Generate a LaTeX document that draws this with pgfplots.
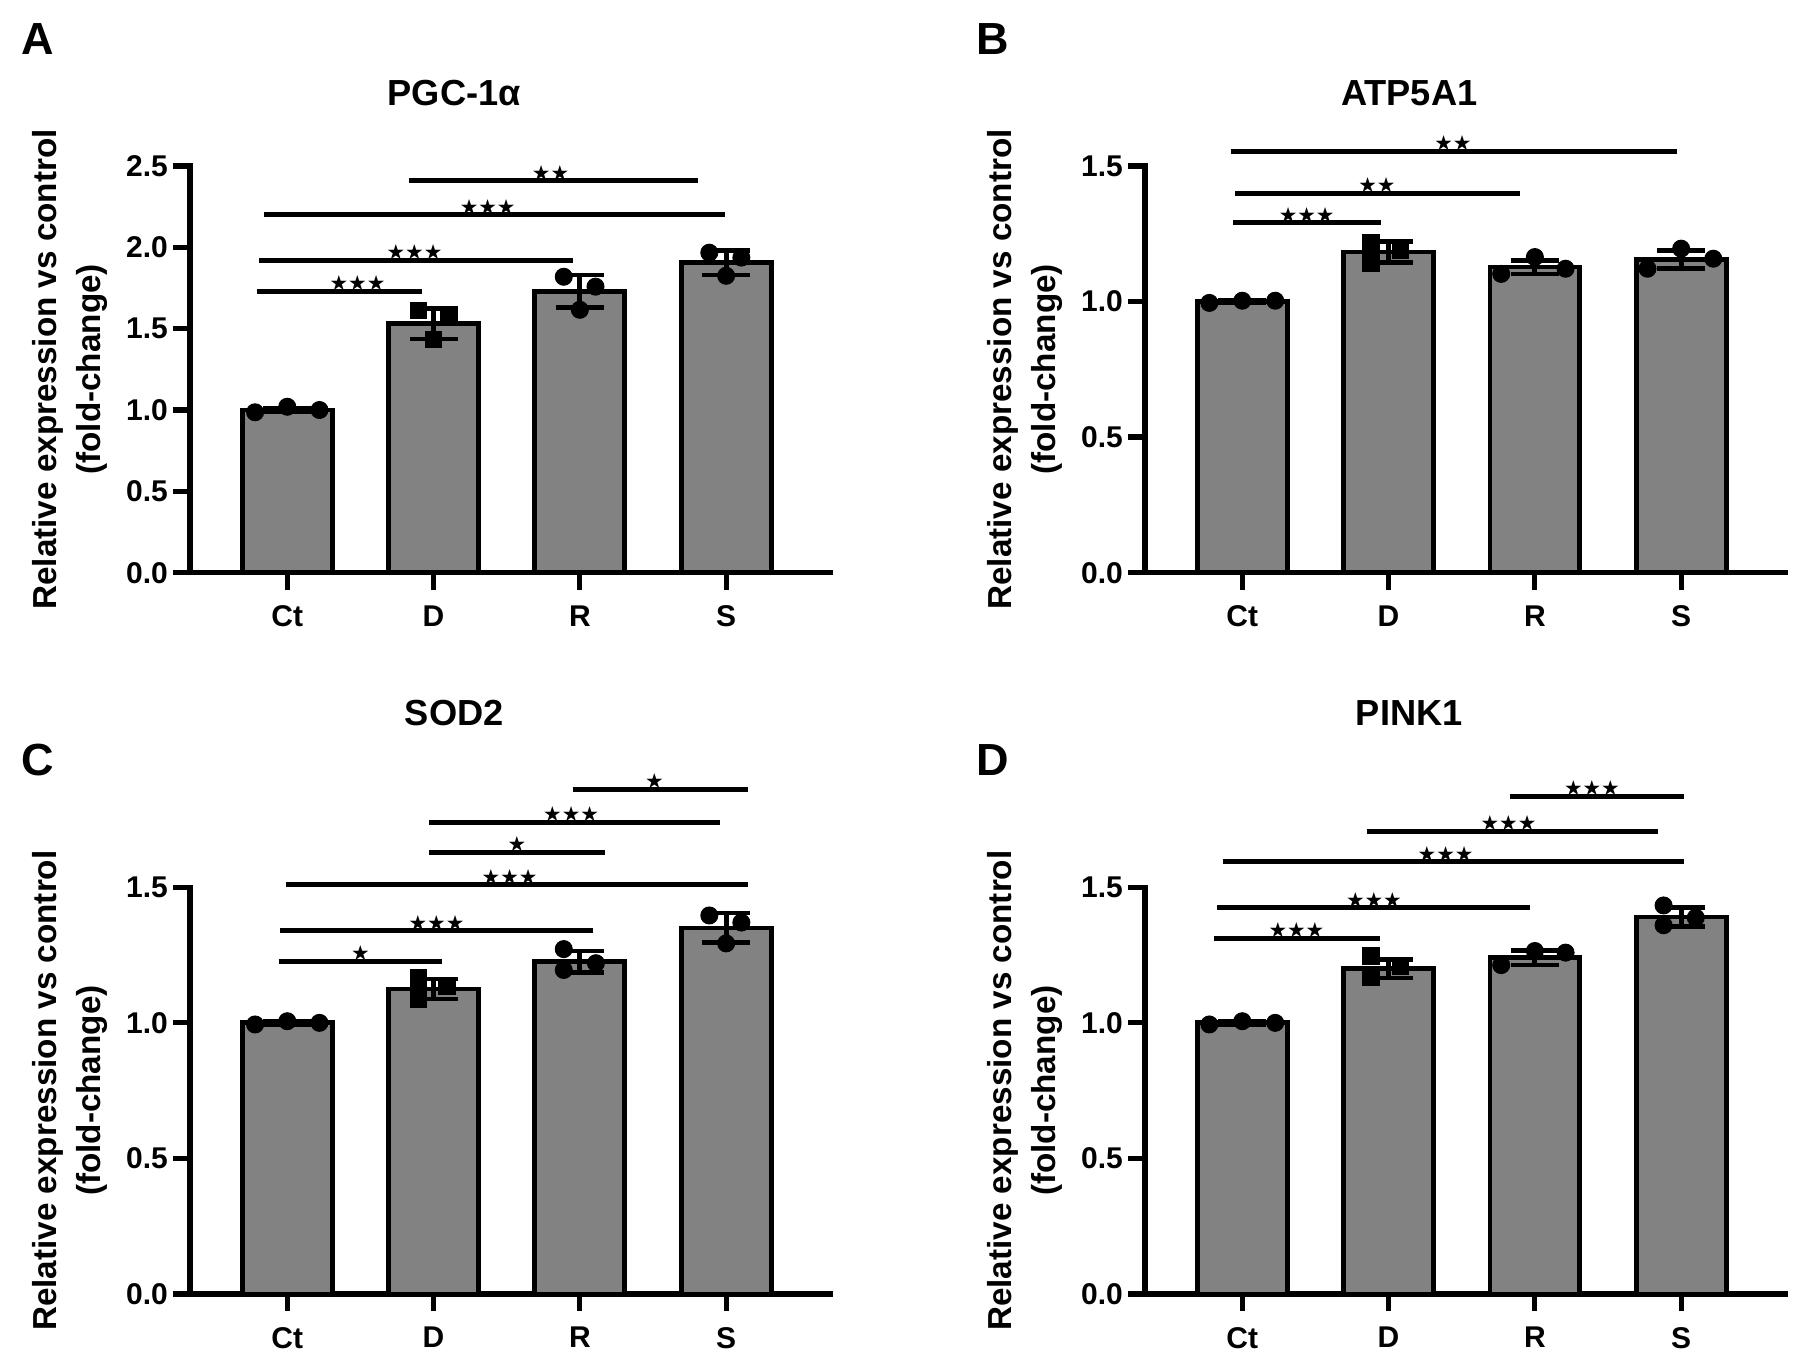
\documentclass[border=0pt]{standalone}
\usepackage{fontspec}
\setmainfont{Liberation Sans}
\newfontfamily\djv{DejaVu Sans}
\usepackage{pgfplots}
\pgfplotsset{compat=1.18}
\definecolor{barfill}{RGB}{130,130,130}
\newcommand{\starfont}{\fontsize{8.3}{9}\selectfont\djv}
\newcommand{\sig}[5]{%
  \draw[line width=2pt] (axis cs:#1,#3) -- (axis cs:#2,#3);
  \node[anchor=south, inner sep=0pt, yshift=0pt, font=\starfont] at (axis cs:#4,#3) {#5};}
\pgfplotsset{
  panel/.style={
    scale only axis, width=256pt, height=162.68pt,
    xmin=-0.665, xmax=3.71, ymin=0,
    axis x line*=bottom, axis y line*=left,
    axis line style={line width=2.1pt, -, line cap=rect},
    xtick={0,1,2,3}, xticklabels={Ct,D,R,S},
    tick align=outside, major tick length=6.8pt,
    tick style={black, line width=2.1pt},
    /pgf/number format/assume math mode=true,
    ticklabel style={font=\fontsize{12}{14}\selectfont\bfseries},
    yticklabel style={xshift=1.5pt, /pgf/number format/fixed, /pgf/number format/fixed zerofill, /pgf/number format/precision=1},
    xticklabel style={yshift=-3pt},
    ylabel={Relative expression vs control\\(fold-change)},
    ylabel style={at={(axis description cs:-0.1875,0.5)}, anchor=center, align=center, font=\fontsize{13.3}{17.6}\selectfont\bfseries},
    clip=false,
  },
  toptitle/.style={title style={at={(axis description cs:0.413,1.113)}, anchor=base, font=\fontsize{14.5}{16}\selectfont\bfseries}},
  bottitle/.style={title style={at={(axis description cs:0.413,1.362)}, anchor=base, font=\fontsize{14.5}{16}\selectfont\bfseries}},
  bars/.style={ybar, bar width=0.615, fill=barfill, draw=black, line width=1.9pt,
    error bars/.cd, y dir=both, y explicit, error mark=|,
    error bar style={line width=1.9pt, black},
    error mark options={line width=1.9pt, black, mark size=9.6pt}},
  dots/.style={only marks, mark=*, mark size=3.4pt, black},
  sqs/.style={only marks, mark=square*, mark size=3.3pt, black},
}
\newcommand{\letter}[1]{\node[anchor=base west, inner sep=0pt, font=\fontsize{18}{20}\selectfont\bfseries] at (axis description cs:-0.264,1.275) {#1};}
\begin{document}
\begin{tikzpicture}
\useasboundingbox (0,0) rectangle (720.8pt,545.2pt);
% Panel A
\begin{axis}[panel, toptitle, at={(76pt,316.12pt)}, anchor=south west,
  ymax=2.5, ytick={0,0.5,1,1.5,2,2.5}, title={PGC-1α}]
\addplot[bars] coordinates {(0,1.0) +- (0,0.01) (1,1.53) +- (0,0.093) (2,1.73) +- (0,0.10) (3,1.905) +- (0,0.075)};
\addplot[dots] coordinates {(-0.22,0.986) (0,1.02) (0.22,1.0) (1.89,1.819) (2.107,1.758) (2,1.616) (2.885,1.967) (3.104,1.937) (3,1.825)};
\addplot[sqs] coordinates {(0.896,1.612) (1.104,1.585) (1,1.433)};
\sig{-0.21}{0.92}{1.73}{0.48}{★★★}
\sig{-0.19}{1.95}{1.92}{0.87}{★★★}
\sig{-0.16}{2.99}{2.20}{1.37}{★★★}
\sig{0.83}{2.81}{2.41}{1.80}{★★}
\letter{A}
\end{axis}
% Panel B
\begin{axis}[panel, toptitle, at={(458pt,316.12pt)}, anchor=south west,
  ymax=1.5, ytick={0,0.5,1,1.5}, title={ATP5A1}]
\addplot[bars] coordinates {(0,1.0) +- (0,0.005) (1,1.183) +- (0,0.038) (2,1.127) +- (0,0.025) (3,1.155) +- (0,0.033)};
\addplot[dots] coordinates {(-0.225,0.995) (0,1.003) (0.225,1.003) (1.77,1.102) (2,1.164) (2.21,1.121) (2.77,1.121) (3,1.195) (3.22,1.158)};
\addplot[sqs] coordinates {(0.88,1.217) (0.88,1.143) (1.08,1.19)};
\sig{-0.065}{0.95}{1.29}{0.44}{★★★}
\sig{-0.05}{1.90}{1.40}{0.92}{★★}
\sig{-0.08}{2.97}{1.555}{1.44}{★★}
\letter{B}
\end{axis}
% Panel C
\begin{axis}[panel, bottitle, at={(76pt,27.6pt)}, anchor=south west,
  ymax=1.5, ytick={0,0.5,1,1.5}, title={SOD2}]
\addplot[bars] coordinates {(0,1.0) +- (0,0.005) (1,1.125) +- (0,0.037) (2,1.225) +- (0,0.04) (3,1.35) +- (0,0.055)};
\addplot[dots] coordinates {(-0.22,0.994) (0,1.006) (0.22,1.0) (1.89,1.272) (1.89,1.195) (2.11,1.22) (2.885,1.396) (3.104,1.37) (3,1.293)};
\addplot[sqs] coordinates {(0.896,1.165) (0.896,1.088) (1.093,1.134)};
\sig{-0.06}{1.06}{1.228}{0.50}{★}
\sig{-0.05}{2.09}{1.339}{1.02}{★★★}
\sig{-0.01}{3.15}{1.509}{1.52}{★★★}
\sig{0.97}{2.17}{1.63}{1.57}{★}
\sig{0.97}{2.96}{1.74}{1.94}{★★★}
\sig{1.95}{3.15}{1.862}{2.51}{★}
\letter{C}
\end{axis}
% Panel D
\begin{axis}[panel, bottitle, at={(458pt,27.6pt)}, anchor=south west,
  ymax=1.5, ytick={0,0.5,1,1.5}, title={PINK1}]
\addplot[bars] coordinates {(0,1.0) +- (0,0.005) (1,1.2) +- (0,0.035) (2,1.24) +- (0,0.027) (3,1.39) +- (0,0.036)};
\addplot[dots] coordinates {(-0.225,0.994) (0,1.006) (0.225,1.0) (1.77,1.213) (2,1.265) (2.21,1.259) (2.88,1.433) (2.88,1.36) (3.1,1.388)};
\addplot[sqs] coordinates {(0.88,1.246) (0.88,1.168) (1.08,1.207)};
\sig{-0.19}{0.94}{1.311}{0.37}{★★★}
\sig{-0.17}{1.97}{1.424}{0.90}{★★★}
\sig{-0.13}{3.02}{1.594}{1.39}{★★★}
\sig{0.85}{2.84}{1.707}{1.82}{★★★}
\sig{1.83}{3.02}{1.835}{2.39}{★★★}
\letter{D}
\end{axis}
\end{tikzpicture}
\end{document}
